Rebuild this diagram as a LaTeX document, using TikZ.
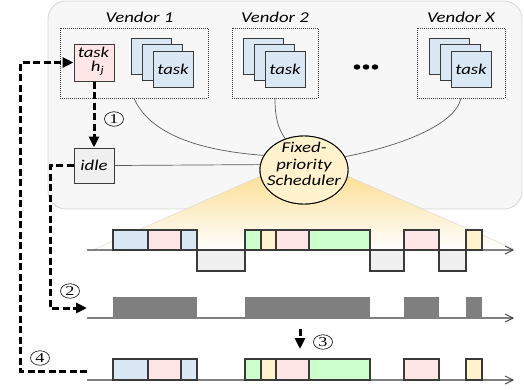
\documentclass[tikz,border=0pt]{standalone}
\usepackage{fontspec}
\newfontfamily\lblfont[FakeStretch=1.25]{Carlito}
\newfontfamily\numfont[FakeStretch=1.35]{Liberation Serif}
\usetikzlibrary{arrows.meta,shapes.geometric}

\definecolor{panelfill}{HTML}{F7F7F7}
\definecolor{panelline}{HTML}{D6D6D6}
\definecolor{taskblue}{HTML}{DAE8F5}
\definecolor{taskpink}{HTML}{FFE6E6}
\definecolor{taskgreen}{HTML}{CCFFCC}
\definecolor{taskyellow}{HTML}{FFF2CC}
\definecolor{idlegray}{HTML}{F0F0F0}
\definecolor{busygray}{HTML}{7F7F7F}
\definecolor{edgedark}{HTML}{3A3A3A}
\definecolor{linkgray}{HTML}{5A5A5A}
\definecolor{fantop}{HTML}{FBD77C}
\definecolor{fanedge}{HTML}{DADADA}
\definecolor{axisgray}{HTML}{808080}
\definecolor{schedfill}{HTML}{FFF2CC}

\tikzset{
  panel/.style={draw=panelline, fill=panelfill, line width=0.8pt, rounded corners=18pt},
  vendorbox/.style={draw=edgedark, line width=0.7pt, dash pattern=on 1pt off 1pt,
    minimum width=#1, minimum height=70pt, inner sep=0pt},
  txt/.style={font=\lblfont\itshape\fontsize{15}{16.5}\selectfont, inner sep=0pt},
  taskbox/.style={txt, draw=edgedark, line width=1pt, fill=taskblue,
    minimum width=40pt, minimum height=36pt},
  link/.style={draw=linkgray, line width=0.7pt},
  flow/.style={line width=3pt, dash pattern=on 7pt off 3.5pt,
    -{Triangle[length=11pt,width=10pt]}},
  cnum/.style={ellipse, draw, line width=0.6pt, minimum width=19pt, minimum height=14.5pt,
    inner sep=0pt, font=\numfont\fontsize{13.5}{13.5}\selectfont},
  blk/.style={draw=edgedark, line width=1.3pt},
  axis/.style={draw=axisgray, line width=1.4pt,
    -{Straight Barb[length=8pt,width=8pt,line width=0.8pt,color=edgedark]}},
}

\begin{document}
\begin{tikzpicture}[x=1pt,y=-1pt]
\useasboundingbox (0,0) rectangle (524,389);

% system panel
\draw[panel] (48,1) rectangle (522,209);

% fan from the scheduler down to the schedule
\shade[top color=fantop, bottom color=white] (304,157) -- (95,249) -- (514,249) -- cycle;
\draw[fanedge, line width=0.5pt] (95,249) -- (304,157) -- (514,249);

% vendors
\node[txt] (v1lbl) at (139.5,17) {Vendor 1};
\node[txt] (v2lbl) at (275,17) {Vendor 2};
\node[txt] (vxlbl) at (461,17) {Vendor X};

\node[vendorbox=148pt] (v1) at (134,63) {};
\node[vendorbox=86pt]  (v2) at (275,63) {};
\node[vendorbox=88pt]  (vx) at (461,63) {};

\node[taskbox] (v1a) at (151,56) {};
\node[taskbox] (v1b) at (162,62.5) {};
\node[taskbox] (v1c) at (173,69) {task};
\node[taskbox] (v2a) at (263,56) {};
\node[taskbox] (v2b) at (274,62.5) {};
\node[taskbox] (v2c) at (285,69) {task};
\node[taskbox] (vxa) at (449,56) {};
\node[taskbox] (vxb) at (460,62.5) {};
\node[taskbox] (vxc) at (471,69) {task};

\fill[black] (357,67) ellipse [x radius=3.3, y radius=2.7];
\fill[black] (366,67) ellipse [x radius=3.3, y radius=2.7];
\fill[black] (375,67) ellipse [x radius=3.3, y radius=2.7];

% high-priority task and idle task
\node[taskbox, fill=taskpink, minimum height=37pt] (hj) at (94,62.5) {};
\node[txt] (hjtask) at (93.5,52.5) {task};
\node[txt] (hjname) at (97.5,68.5) {h\textsubscript{j}};
\node[taskbox, fill=idlegray, minimum height=35pt] (idle) at (94,165.5) {idle};

% scheduler and its links to the vendors
\node[ellipse, draw, line width=0.9pt, fill=schedfill, minimum width=88pt,
      minimum height=68pt, inner sep=0pt] (sched) at (304,170) {};

\draw[link] (v1.south) .. controls (148,130) and (190,150) .. (sched.160);
\draw[link] (v2.south) .. controls (275,118) and (278,128) .. (sched.121);
\draw[link] (vx.south) .. controls (455,125) and (400,146) .. (sched.18);
\draw[link] (idle.east) -- (sched.173);

\node[ellipse, draw, line width=0.9pt, fill=schedfill, minimum width=88pt,
      minimum height=68pt, inner sep=0pt] (schedtop) at (sched.center) {};
\node[txt, align=center] (schedlbl) at (304,164) {Fixed-\\priority\\Scheduler};

% timelines
\coordinate (t1s) at (87,250);  \coordinate (t1e) at (514,250);
\coordinate (t2s) at (87,318);  \coordinate (t2e) at (514,318);
\coordinate (t3s) at (87,380);  \coordinate (t3e) at (514,380);
\draw[axis] (t1s) -- (t1e);
\draw[axis] (t2s) -- (t2e);
\draw[axis] (t3s) -- (t3e);

\foreach \ya/\yb in {230/250, 359/380} {
  \draw[blk, fill=taskblue]   (113,\ya) rectangle (148,\yb);
  \draw[blk, fill=taskpink]   (148,\ya) rectangle (181,\yb);
  \draw[blk, fill=taskblue]   (181,\ya) rectangle (197,\yb);
  \draw[blk, fill=taskgreen]  (245,\ya) rectangle (261,\yb);
  \draw[blk, fill=taskyellow] (261,\ya) rectangle (276,\yb);
  \draw[blk, fill=taskpink]   (276,\ya) rectangle (309,\yb);
  \draw[blk, fill=taskgreen]  (309,\ya) rectangle (370,\yb);
  \draw[blk, fill=taskpink]   (404,\ya) rectangle (439,\yb);
  \draw[blk, fill=taskyellow] (466,\ya) rectangle (482,\yb);
}
\foreach \xa/\xb in {197/245, 370/404, 439/466}
  \draw[blk, fill=idlegray] (\xa,250) rectangle (\xb,271);
\foreach \xa/\xb in {113/197, 245/370, 404/439, 466/482}
  \fill[busygray] (\xa,297) rectangle (\xb,318);

% flow of the idle-time reclaiming steps
\coordinate (t2in) at (87,308);
\coordinate (t3out) at (87,371);
\coordinate (s3a) at (300,329);
\coordinate (s3b) at (300,349);
\draw[flow] (hj.south) -- (idle.north);
\draw[flow] (idle.west) -| (50,308) -- (t2in);
\draw[flow] (s3a) -- (s3b);
\draw[flow] (t3out) -- (20,371) |- (hj.west);

\node[cnum] (n1) at (114,119) {1};
\node[cnum] (n2) at (70,291) {2};
\node[cnum] (n3) at (323,342) {3};
\node[cnum] (n4) at (40,358) {4};
\end{tikzpicture}
\end{document}
